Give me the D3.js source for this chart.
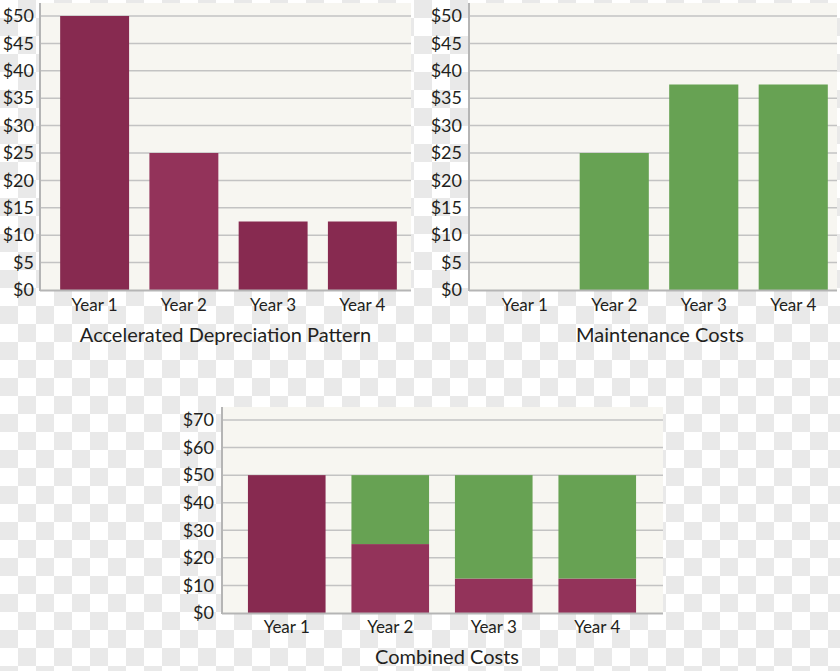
<!DOCTYPE html>
<html><head><meta charset="utf-8">
<script src="https://cdn.jsdelivr.net/npm/d3@7"></script>
<style>html,body{margin:0;padding:0;background:#fff;}svg{display:block;}</style>
</head><body>
<svg id="c" width="840" height="671"></svg>
<script>
// ---- data ----
const years = ["Year 1", "Year 2", "Year 3", "Year 4"];
const depreciation = [50, 25, 12.5, 12.5];
const maintenance = [0, 25, 37.5, 37.5];
const ticksSmall = [0, 5, 10, 15, 20, 25, 30, 35, 40, 45, 50];
const ticksCombined = [0, 10, 20, 30, 40, 50, 60, 70];
const titles = ["Accelerated Depreciation Pattern", "Maintenance Costs", "Combined Costs"];

// ---- styles ----
const depDark = "#872a50", depLight = "#93335a", green = "#67a253";
const depColors1 = [depDark, depLight, depDark, depDark];
const depColors3 = [depDark, depLight, depLight, depLight];
const plotBg = "#f7f6f1", gridC = "#c3c3c3", axisC = "#b5b5b5", textC = "#231f20";
const font = "Lato, 'Open Sans', sans-serif";

const svg = d3.select("#c");
// checkerboard background
const defs = svg.append("defs");
const pat = defs.append("pattern").attr("id", "chk").attr("width", 36).attr("height", 36)
  .attr("patternUnits", "userSpaceOnUse");
pat.append("rect").attr("width", 36).attr("height", 36).attr("fill", "#ffffff");
pat.append("rect").attr("x", 18).attr("y", 0).attr("width", 18).attr("height", 18).attr("fill", "#e9e9e9");
pat.append("rect").attr("x", 0).attr("y", 18).attr("width", 18).attr("height", 18).attr("fill", "#e9e9e9");
svg.append("rect").attr("width", 840).attr("height", 671).attr("fill", "url(#chk)");

function panel(cfg) {
  const g = svg.append("g");
  const x = d3.scaleBand().domain(years).range(cfg.xr).paddingInner(cfg.pad).paddingOuter(cfg.pad / 2);
  const y = d3.scaleLinear().domain(cfg.ydom).range(cfg.yr);
  // plot background
  g.append("rect").attr("x", cfg.bg[0]).attr("y", cfg.top).attr("width", cfg.bg[1] - cfg.bg[0])
    .attr("height", cfg.yr[0] - cfg.top).attr("fill", plotBg);
  // gridlines
  g.selectAll(".grid").data(cfg.ticks.filter(d => d > 0)).join("line")
    .attr("x1", cfg.bg[0]).attr("x2", cfg.bg[1])
    .attr("y1", d => y(d)).attr("y2", d => y(d))
    .attr("stroke", gridC).attr("stroke-width", 1.5);
  // bars
  cfg.draw(g, x, y);
  // axis lines
  g.append("line").attr("x1", cfg.bg[0]).attr("x2", cfg.bg[0]).attr("y1", cfg.top).attr("y2", cfg.yr[0] + 1)
    .attr("stroke", axisC).attr("stroke-width", 2);
  g.append("line").attr("x1", cfg.bg[0]).attr("x2", cfg.bg[1]).attr("y1", cfg.yr[0] + 0.5).attr("y2", cfg.yr[0] + 0.5)
    .attr("stroke", axisC).attr("stroke-width", 2);
  // y axis
  const ya = d3.axisLeft(y).tickValues(cfg.ticks).tickSize(0).tickPadding(0).tickFormat(d => "$" + d);
  const yg = g.append("g").attr("transform", `translate(${cfg.bg[0] - cfg.ygap},0)`).call(ya);
  yg.select(".domain").remove();
  yg.selectAll("text").attr("font-family", font).attr("font-size", 18).attr("fill", textC);
  // x axis
  const xa = d3.axisBottom(x).tickSize(0).tickPadding(0);
  const xg = g.append("g").attr("transform", `translate(0,${cfg.yr[0]})`).call(xa);
  xg.select(".domain").remove();
  xg.selectAll("text").attr("dy", null).attr("y", cfg.xlabY).attr("font-family", font)
    .attr("font-size", 17).attr("fill", textC);
  // title
  g.append("text").attr("x", cfg.titleX).attr("y", cfg.titleY).attr("text-anchor", "middle")
    .attr("font-family", font).attr("font-size", 20).attr("fill", textC).text(cfg.title);
}

panel({
  xr: [50, 407], pad: 0.2276, ydom: [0, 50], yr: [290, 16], bg: [40, 411], top: 3,
  ticks: ticksSmall, ygap: 6, xlabY: 21, titleX: 225.5, titleY: 342, title: titles[0],
  draw: (g, x, y) => {
    g.selectAll(".bar").data(years).join("rect")
      .attr("x", d => x(d)).attr("width", x.bandwidth())
      .attr("y", (d, i) => y(depreciation[i])).attr("height", (d, i) => y(0) - y(depreciation[i]))
      .attr("fill", (d, i) => depColors1[i]);
  }
});

panel({
  xr: [480, 838], pad: 0.2276, ydom: [0, 50], yr: [290, 16], bg: [469, 837], top: 3,
  ticks: ticksSmall, ygap: 7, xlabY: 21, titleX: 660, titleY: 342, title: titles[1],
  draw: (g, x, y) => {
    g.selectAll(".bar").data(years).join("rect")
      .attr("x", d => x(d)).attr("width", x.bandwidth())
      .attr("y", (d, i) => y(maintenance[i])).attr("height", (d, i) => y(0) - y(maintenance[i]))
      .attr("fill", green);
  }
});

panel({
  xr: [235, 649], pad: 0.25, ydom: [0, 70], yr: [613, 420], bg: [222, 663], top: 407,
  ticks: ticksCombined, ygap: 8, xlabY: 20, titleX: 447, titleY: 664, title: titles[2],
  draw: (g, x, y) => {
    const stacked = years.map((d, i) => ({ year: d, dep: depreciation[i], mnt: maintenance[i], i }));
    g.selectAll(".dep").data(stacked).join("rect")
      .attr("x", d => x(d.year)).attr("width", x.bandwidth())
      .attr("y", d => y(d.dep)).attr("height", d => y(0) - y(d.dep))
      .attr("fill", d => depColors3[d.i]);
    g.selectAll(".mnt").data(stacked.filter(d => d.mnt > 0)).join("rect")
      .attr("x", d => x(d.year)).attr("width", x.bandwidth())
      .attr("y", d => y(d.dep + d.mnt)).attr("height", d => y(d.dep) - y(d.dep + d.mnt))
      .attr("fill", green);
  }
});
</script>
</body></html>
